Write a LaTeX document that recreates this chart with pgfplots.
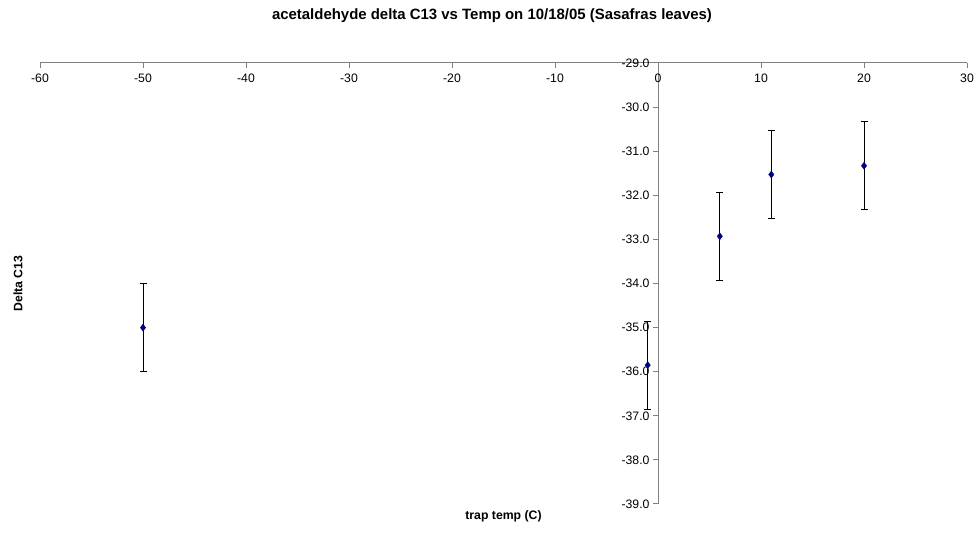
\documentclass[border=0pt]{standalone}
\usepackage{fontspec}
\setmainfont{Liberation Sans}
\usepackage{pgfplots}
\pgfplotsset{compat=1.18}
\definecolor{axgray}{RGB}{128,128,128}
\definecolor{navyblue}{RGB}{0,0,128}
\begin{document}
\begin{tikzpicture}
\begin{axis}[
  scale only axis, width=927bp, height=441bp,
  xmin=-60, xmax=30, ymin=-39, ymax=-29,
  axis x line=top, axis y line=middle,
  axis line style={-, axgray, line width=1bp},
  xtick={-60,-50,...,30}, ytick={-39,-38,...,-29},
  hide obscured x ticks=false, hide obscured y ticks=false,
  xtick align=inside, ytick align=outside,
  major tick length=5bp,
  tick style={axgray, line width=1bp},
  /pgf/number format/assume math mode=true,
  yticklabel={\pgfmathprintnumber[fixed, fixed zerofill, precision=1]{\tick}},
  xticklabel style={anchor=north, yshift=-7bp},
  ticklabel style={font=\fontsize{12.3}{14}\selectfont, text=black},
  title={acetaldehyde delta C13 vs Temp on 10/18/05 (Sasafras leaves)},
  title style={at={(axis description cs:0.4876,1)}, yshift=41bp, anchor=center, font=\fontsize{15}{17}\selectfont\bfseries},
  xlabel={trap temp (C)},
  xlabel style={at={(axis description cs:0.5,0)}, yshift=-12bp, anchor=center, font=\fontsize{12.3}{14}\selectfont\bfseries},
  ylabel={Delta C13},
  ylabel style={at={(axis description cs:0,0.5)}, xshift=-22bp, anchor=center, rotate=90, font=\fontsize{12.3}{14}\selectfont\bfseries},
  clip=false,
]
\addplot[only marks, mark=diamond*, mark size=3.5bp, color=navyblue,
  mark options={fill=navyblue, draw=navyblue},
  error bars/.cd, y dir=both, y explicit,
  error bar style={black, line width=0.75bp},
  error mark options={rotate=90, black, line width=0.75bp, mark size=3.5bp}]
coordinates {
  (-50,-35.00) +- (0,1)
  (-1,-35.85) +- (0,1)
  (6,-32.93) +- (0,1)
  (11,-31.53) +- (0,1)
  (20,-31.33) +- (0,1)
};
\end{axis}
\pgfresetboundingbox
\useasboundingbox (-40bp,-31bp) rectangle (937bp,504bp);
\end{tikzpicture}
\end{document}
